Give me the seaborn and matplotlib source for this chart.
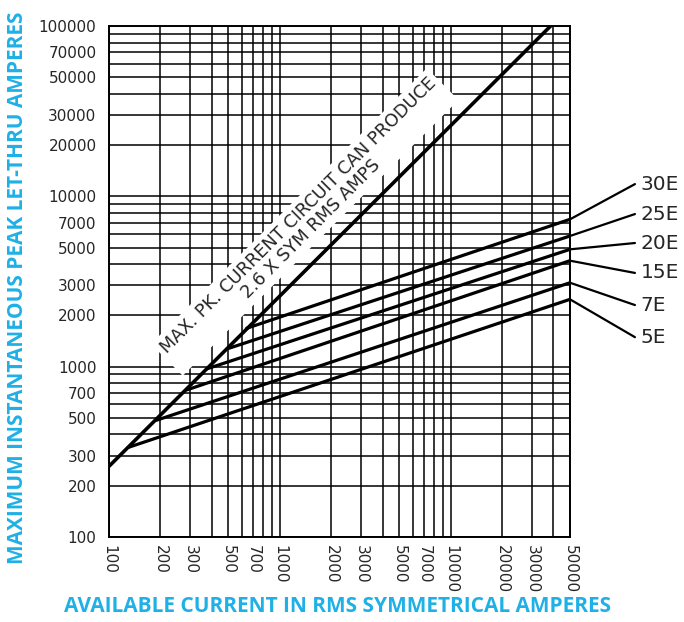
import numpy as np
import pandas as pd
import seaborn as sns
import matplotlib.pyplot as plt
from matplotlib.ticker import LogLocator

# fuse let-thru curves (start on the 2.6x line, end at 50000 A)
ratings = ["5E", "7E", "15E", "20E", "25E", "30E"]
start_x = [130, 190, 285, 373, 489, 640]
start_y = [336, 485, 730, 970, 1270, 1680]
end_x = [50000] * 6
end_y = [2485, 3110, 4190, 4885, 5850, 7330]
# where the leader lines end / labels sit
label_y = [1490, 2300, 3550, 5320, 7870, 11800]
label_x = 120000

# max peak line (2.6 x sym rms)
max_x = [100, 38500]
max_y = [260, 100000]

x_ticks = [100, 200, 300, 500, 700, 1000, 2000, 3000, 5000, 7000, 10000, 20000, 30000, 50000]
y_ticks = [100, 200, 300, 500, 700, 1000, 2000, 3000, 5000, 7000, 10000, 20000, 30000, 50000, 70000, 100000]

label_color = "#1fb0e6"

df = pd.DataFrame({
    "rating": ratings * 2,
    "x": start_x + end_x,
    "y": start_y + end_y,
})
df_max = pd.DataFrame({"x": max_x, "y": max_y})

sns.set_style("white")
plt.rcParams["font.family"] = ["DejaVu Sans"]

fig = plt.figure(figsize=(6.84, 6.22), dpi=100)
ax = fig.add_axes([109 / 684, 85 / 622, 461 / 684, 511 / 622])

ax.set_xscale("log")
ax.set_yscale("log")
ax.set_xlim(100, 50000)
ax.set_ylim(100, 100000)

sns.lineplot(data=df, x="x", y="y", hue="rating", palette=["black"] * 6,
             legend=False, linewidth=2.3, ax=ax, zorder=3)
sns.lineplot(data=df_max, x="x", y="y", color="black", linewidth=2.6, ax=ax, zorder=3)

# leader lines + labels on the right
for r, ey, ly in zip(ratings, end_y, label_y):
    ax.plot([50000, label_x], [ey, ly], color="black", linewidth=1.6, clip_on=False)
    ax.text(label_x * 1.08, ly, r, ha="left", va="center", fontsize=14.5)

ax.text(1400, 7070, "MAX. PK. CURRENT CIRCUIT CAN PRODUCE\n2.6 X SYM RMS AMPS",
        rotation=45, rotation_mode="anchor", ha="center", va="center",
        multialignment="center", fontsize=12.8, linespacing=1.05, zorder=2,
        bbox=dict(facecolor="white", edgecolor="none", pad=3))

ax.set_xticks(x_ticks)
ax.set_xticklabels([str(v) for v in x_ticks], rotation=270, fontsize=11)
ax.set_yticks(y_ticks)
ax.set_yticklabels([str(v) for v in y_ticks], fontsize=11)
ax.xaxis.set_minor_locator(LogLocator(base=10, subs=np.arange(2, 10)))
ax.yaxis.set_minor_locator(LogLocator(base=10, subs=np.arange(2, 10)))
ax.grid(True, which="both", color="black", linewidth=1.1)
ax.set_axisbelow(True)
ax.tick_params(which="both", length=0)
ax.tick_params(axis="y", pad=9)
ax.tick_params(axis="x", pad=6)

for s in ax.spines.values():
    s.set_color("black")
    s.set_linewidth(1.4)

ax.set_xlabel("")
ax.set_ylabel("")
fig.text(338 / 684, 1 - 607 / 622, "AVAILABLE CURRENT IN RMS SYMMETRICAL AMPERES",
         ha="center", va="center", fontsize=15, fontweight="bold",
         color=label_color, family=["Open Sans", "DejaVu Sans"])
fig.text(18 / 684, 1 - 288 / 622, "MAXIMUM INSTANTANEOUS PEAK LET-THRU AMPERES",
         ha="center", va="center", rotation=90, fontsize=15, fontweight="bold",
         color=label_color, family=["Open Sans", "DejaVu Sans"])

fig.savefig("out.png", dpi=100)
